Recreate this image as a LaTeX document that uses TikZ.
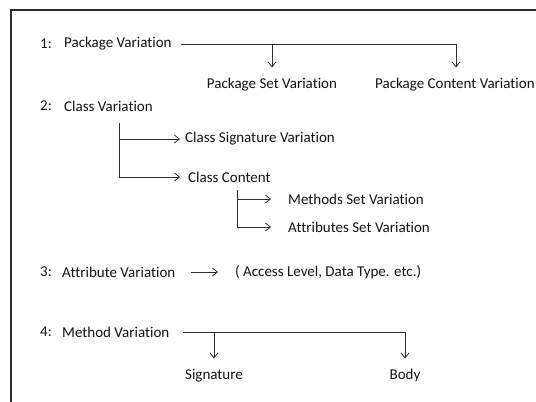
\documentclass[tikz,border=0pt]{standalone}
\usepackage{fontspec}
\setmainfont{Carlito}[Ligatures={NoCommon}]
\usetikzlibrary{arrows.meta}
\definecolor{ink}{HTML}{151515}
\definecolor{rule}{HTML}{2E2E2E}
\begin{document}
\begin{tikzpicture}[x=1pt,y=-1pt,
  lbl/.style={anchor=west,inner sep=3pt,text=ink,font=\fontsize{15}{18}\selectfont},
  kid/.style={inner sep=3pt,text=ink,font=\fontsize{15}{18}\selectfont,text height=9.5pt,text depth=3pt},
  link/.style={draw=rule,line width=0.8pt},
  arr/.style={link,-{Straight Barb[length=5pt,width=8pt]}}]
\useasboundingbox (0,0) rectangle (536,402);
\fill[white] (0,0) rectangle (536,402);
% open frame: top and left edges only
\draw[rule,line width=1.2pt] (537,10) -- (11,10) -- (11,403);

% 1: packages
\node[lbl] (n1) at (37,44) {1:};
\node[lbl] (pv) at (61,44) {Package Variation};
\node[kid] (psv) at (272,85) {Package Set Variation};
\node[kid,anchor=west] (pcv) at (372,85) {Package Content Variation};
\coordinate (pcvdrop) at (456,85);
\draw[link,shorten <=6pt] (pv.east) -- (pv.east -| pcvdrop);
\draw[arr,shorten <=6pt,shorten >=8pt] (pv.east) -| (psv.north);
\draw[arr,shorten >=8pt] (pv.east -| pcvdrop) -- (pcvdrop |- psv.north);

% 2: classes
\node[lbl] (n2) at (37,106) {2:};
\node[lbl] (cv) at (61,106) {Class Variation};
\coordinate (cvfork) at (119,123);
\node[lbl] (csv) at (182,139) {Class Signature Variation};
\node[lbl] (cc) at (185,177) {Class Content};
\draw[arr,shorten >=2pt] (cvfork) |- (csv.west);
\draw[arr,shorten >=5pt] (cvfork) |- (cc.west);
\coordinate (ccfork) at (237,190);
\node[lbl] (msv) at (285,199) {Methods Set Variation};
% last line runs past the window edge, so its final stroke is cut off
\node[lbl,text opacity=0] (asv) at (285,227) {Attributes Set Variation};
\begin{scope}
  \clip (asv.north west) rectangle ([xshift=-4.6pt]asv.south east);
  \node[lbl] at (asv.west) {Attributes Set Variation};
\end{scope}
\draw[arr,shorten >=14pt] (ccfork) |- (msv.west);
\draw[arr,shorten >=14pt] (ccfork) |- (asv.west);

% 3: attributes
\node[lbl] (n3) at (37,272) {3:};
\node[lbl] (av) at (59,272) {Attribute Variation};
\node[lbl] (avd) at (232,272) {( Access Level, Data Type. etc.)};
\draw[arr,shorten <=12pt,shorten >=14pt] (av.east) -- (avd.west);

% 4: methods
\node[lbl] (n4) at (37,332) {4:};
\node[lbl] (mv) at (59,332) {Method Variation};
\node[kid] (sig) at (214,376) {Signature};
\node[kid] (body) at (405,376) {Body};
\draw[arr,shorten <=10pt,shorten >=8pt] (mv.east) -| (sig.north);
\draw[arr,shorten <=10pt,shorten >=8pt] (mv.east) -| (body.north);
\end{tikzpicture}
\end{document}
